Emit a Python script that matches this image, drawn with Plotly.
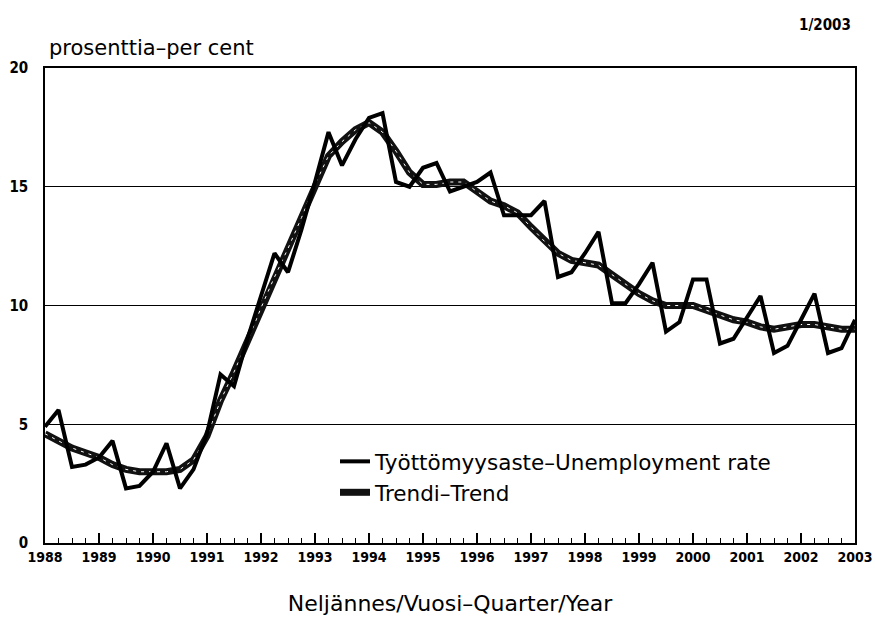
import plotly.graph_objects as go

years = list(range(1988, 2004))
tick_labels = [str(y) for y in years]
quarters = [1988 + i / 4 for i in range(61)]

unemployment = [4.9, 5.6, 3.2, 3.3, 3.6, 4.3, 2.3, 2.4, 3.0, 4.2, 2.3, 3.1,
                4.6, 7.1, 6.6, 8.6, 10.4, 12.2, 11.4, 13.2, 15.2, 17.3, 15.9, 17.0,
                17.9, 18.1, 15.2, 15.0, 15.8, 16.0, 14.8, 15.0, 15.2, 15.6, 13.8, 13.8,
                13.8, 14.4, 11.2, 11.4, 12.2, 13.1, 10.1, 10.1, 10.9, 11.8, 8.9, 9.3,
                11.1, 11.1, 8.4, 8.6, 9.5, 10.4, 8.0, 8.3, 9.4, 10.5, 8.0, 8.2, 9.4]

trend = [4.6, 4.3, 4.0, 3.8, 3.6, 3.3, 3.1, 3.0, 3.0, 3.0, 3.1, 3.5,
         4.5, 6.0, 7.2, 8.5, 9.9, 11.2, 12.4, 13.7, 15.1, 16.3, 16.9, 17.4,
         17.7, 17.3, 16.5, 15.6, 15.1, 15.1, 15.2, 15.2, 14.8, 14.4, 14.2, 13.9,
         13.3, 12.7, 12.2, 11.9, 11.8, 11.7, 11.3, 10.9, 10.5, 10.2, 10.0, 10.0,
         10.0, 9.8, 9.6, 9.4, 9.3, 9.1, 9.0, 9.1, 9.2, 9.2, 9.1, 9.0, 9.0]

TEXT_FONT = "DejaVu Sans, sans-serif"
TICK_FONT = "DejaVu Sans Condensed, DejaVu Sans, sans-serif"

fig = go.Figure()
fig.add_trace(go.Scatter(x=quarters, y=trend, mode="lines", name="Trendi–Trend",
                         line=dict(color="#111111", width=7), legendrank=2))
fig.add_trace(go.Scatter(x=quarters, y=trend, mode="lines", showlegend=False,
                         line=dict(color="white", width=1, dash="3px,5px"), hoverinfo="skip"))
fig.add_trace(go.Scatter(x=quarters, y=unemployment, mode="lines",
                         name="Työttömyysaste–Unemployment rate",
                         line=dict(color="black", width=4), legendrank=1))

fig.update_layout(
    width=875, height=623,
    margin=dict(l=45, r=20, t=68, b=80),
    paper_bgcolor="white", plot_bgcolor="white",
    font=dict(family=TEXT_FONT, color="black", size=18),
    showlegend=True,
    legend=dict(x=0.358, y=0.215, xanchor="left", yanchor="top",
                bgcolor="rgba(0,0,0,0)", font=dict(size=21.5, family=TEXT_FONT),
                itemwidth=30),
    xaxis=dict(range=[1988, 2003], tickvals=years, ticktext=tick_labels,
               automargin=False, ticklabeloverflow="allow",
               ticks="inside", ticklen=10, tickwidth=1.5, tickcolor="black",
               minor=dict(dtick=0.25, tick0=1988, ticks="inside", ticklen=5,
                          tickwidth=1.2, tickcolor="black", showgrid=False),
               showgrid=False, zeroline=False, showline=True, linecolor="black",
               linewidth=1.5, mirror=True,
               tickfont=dict(size=14, family=TICK_FONT, weight="bold"),
               title=dict(text="Neljännes/Vuosi–Quarter/Year",
                          font=dict(size=22, family=TEXT_FONT), standoff=32)),
    yaxis=dict(range=[0, 20], tickvals=[0, 5, 10, 15, 20], ticks="",
               automargin=False,
               showgrid=True, gridcolor="black", gridwidth=1.2, zeroline=False,
               showline=True, linecolor="black", linewidth=1.5, mirror=True,
               tickfont=dict(size=15, family=TICK_FONT, weight="bold"), ticklabelstandoff=12),
    annotations=[
        dict(text="prosenttia–per cent", xref="paper", yref="paper", x=0.003, y=1.0,
             xanchor="left", yanchor="bottom", yshift=6, showarrow=False,
             font=dict(size=21, family=TEXT_FONT)),
        dict(text="1/2003", xref="paper", yref="paper", x=0.997, y=1.0,
             xanchor="right", yanchor="bottom", yshift=32, showarrow=False,
             font=dict(size=15, family=TICK_FONT, weight="bold")),
    ],
)

fig.write_html("out.html",
               config={"displayModeBar": False},
               post_script="document.body.style.margin='0px';"
                           "document.body.style.overflow='hidden';")
